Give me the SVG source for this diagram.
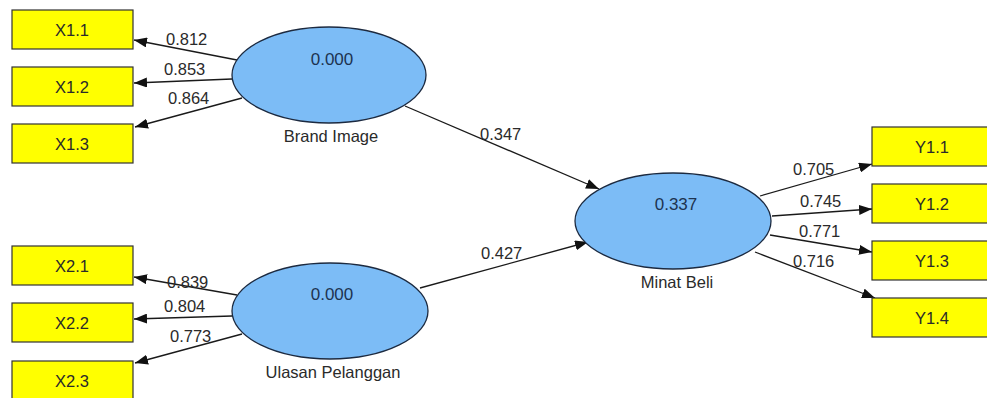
<svg xmlns="http://www.w3.org/2000/svg" width="987" height="398" viewBox="0 0 987 398">
<style>
.box{fill:#ffff00;stroke:#333;stroke-width:1.2}
.ell{fill:#7cbcf6;stroke:#1c2a40;stroke-width:1.3}
.t{font-family:"Liberation Sans",Arial,sans-serif;font-size:16.5px;fill:#2a2a2a}
.c{text-anchor:middle}
.v{font-family:"Liberation Sans",Arial,sans-serif;font-size:17px;fill:#1d3350;text-anchor:middle}
.e{stroke:#1a1a1a;stroke-width:1.3;fill:none;marker-end:url(#ah)}
</style>
<defs>
<marker id="ah" markerUnits="userSpaceOnUse" markerWidth="14" markerHeight="10" refX="13" refY="5" orient="auto">
<path d="M0,0 L13,5 L0,10 Z" fill="#111"/>
</marker>
</defs>
<rect width="987" height="398" fill="#fff"/>
<g id="connectors">
<line class="e" x1="237" y1="60" x2="134" y2="40"/>
<line class="e" x1="232" y1="79" x2="134" y2="83"/>
<line class="e" x1="242" y1="98" x2="135" y2="127"/>
<line class="e" x1="237" y1="295" x2="134" y2="277"/>
<line class="e" x1="232" y1="316" x2="134" y2="319"/>
<line class="e" x1="242" y1="334" x2="135" y2="363"/>
<line class="e" x1="405" y1="106" x2="599" y2="189"/>
<line class="e" x1="420" y1="288" x2="588" y2="242"/>
<line class="e" x1="760" y1="196" x2="872" y2="164"/>
<line class="e" x1="772" y1="216" x2="872" y2="209"/>
<line class="e" x1="770" y1="235" x2="872" y2="252"/>
<line class="e" x1="755" y1="252" x2="875" y2="298"/>
<text class="t" x="166" y="45">0.812</text>
<text class="t" x="164" y="75">0.853</text>
<text class="t" x="168" y="104">0.864</text>
<text class="t" x="167" y="288">0.839</text>
<text class="t" x="164" y="312">0.804</text>
<text class="t" x="170" y="342">0.773</text>
<text class="t" x="480" y="140">0.347</text>
<text class="t" x="481" y="259">0.427</text>
<text class="t" x="793" y="175">0.705</text>
<text class="t" x="800" y="207">0.745</text>
<text class="t" x="799" y="237">0.771</text>
<text class="t" x="793" y="267">0.716</text>
</g>
<g id="brand-image">
<ellipse class="ell" cx="329" cy="75" rx="97" ry="48"/>
<text class="v" x="332" y="65">0.000</text>
<text class="t c" x="331" y="142">Brand Image</text>
</g>
<g id="ulasan-pelanggan">
<ellipse class="ell" cx="330" cy="311" rx="98" ry="48"/>
<text class="v" x="332" y="300">0.000</text>
<text class="t c" x="333" y="378">Ulasan Pelanggan</text>
</g>
<g id="minat-beli">
<ellipse class="ell" cx="673" cy="221" rx="98" ry="48"/>
<text class="v" x="676" y="210">0.337</text>
<text class="t c" x="677" y="288">Minat Beli</text>
</g>
<g id="x11"><rect class="box" x="12" y="10" width="121" height="39"/><text class="t c" x="72" y="36">X1.1</text></g>
<g id="x12"><rect class="box" x="12" y="67" width="121" height="39"/><text class="t c" x="72" y="93">X1.2</text></g>
<g id="x13"><rect class="box" x="12" y="124" width="121" height="39"/><text class="t c" x="72" y="150">X1.3</text></g>
<g id="x21"><rect class="box" x="12" y="246" width="121" height="39"/><text class="t c" x="72" y="272">X2.1</text></g>
<g id="x22"><rect class="box" x="12" y="303" width="121" height="39"/><text class="t c" x="72" y="329">X2.2</text></g>
<g id="x23"><rect class="box" x="12" y="361" width="121" height="39"/><text class="t c" x="72" y="387">X2.3</text></g>
<g id="y11"><rect class="box" x="872" y="127" width="121" height="39"/><text class="t c" x="932" y="153">Y1.1</text></g>
<g id="y12"><rect class="box" x="872" y="184" width="121" height="39"/><text class="t c" x="932" y="210">Y1.2</text></g>
<g id="y13"><rect class="box" x="872" y="241" width="121" height="39"/><text class="t c" x="932" y="267">Y1.3</text></g>
<g id="y14"><rect class="box" x="872" y="298" width="121" height="39"/><text class="t c" x="932" y="324">Y1.4</text></g>
</svg>
